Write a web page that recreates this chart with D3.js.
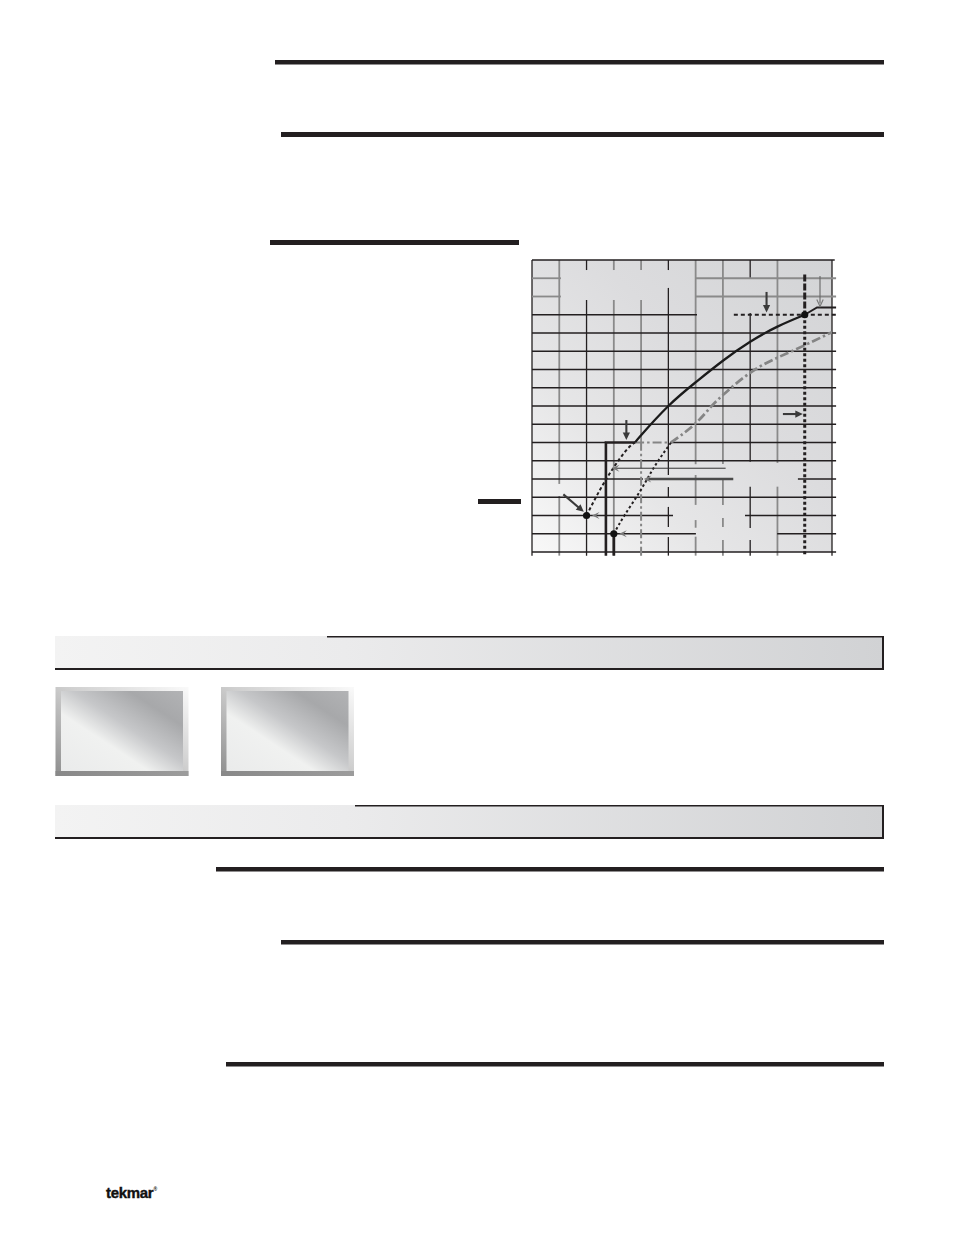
<!DOCTYPE html>
<html><head><meta charset="utf-8">
<script src="https://cdn.jsdelivr.net/npm/d3@7"></script>
<style>html,body{margin:0;padding:0;background:#fff;} svg{display:block;}</style>
</head><body>
<svg id="page" width="954" height="1235"></svg>
<script>
// ---------- DATA (grid units) ----------
const xTicks = d3.range(0, 12);          // vertical grid lines
const yTicks = d3.range(0, 17);          // horizontal grid lines
const majorCols = [0, 2, 5, 8, 11];      // dark columns
const grayRows = [14, 15];               // light rows

// heating curve (solid) and its extension below the boost line (dashed)
const heatX = [3.78, 4, 5, 6, 7, 8, 9, 10];
const heatY = [6, 6.4, 8.0, 9.3, 10.48, 11.52, 12.35, 13];
const heatLowX = [2, 2.49, 2.98, 3.47, 3.78];
const heatLowY = [2, 3.4, 4.6, 5.6, 6];
const limitX = [10, 10.45, 11.15];
const limitY = [13, 13.4, 13.4];
// shifted curve (dash-dot) and its extension (dotted)
const shiftX = [5.1, 5.45, 6, 6.5, 7, 8, 9, 10, 11];
const shiftY = [6, 6.38, 7.05, 7.85, 8.6, 9.82, 10.65, 11.33, 12.05];
const shiftLowX = [3, 3.41, 3.99, 4.5, 5.1];
const shiftLowY = [1, 2.05, 3.4, 4.7, 6];
// marked points
const dotX = [2, 3, 10];
const dotY = [2, 1, 13];

// ---------- SETUP ----------
const svg = d3.select('#page');
svg.append('rect').attr('width', 954).attr('height', 1235).attr('fill', '#fff');
const defs = svg.append('defs');
const x = d3.scaleLinear().domain([0, 11]).range([532, 832]);
const y = d3.scaleLinear().domain([0, 16]).range([552, 260]);
const BLK = '#231f20', GRY = '#8a8a8a';

function lg(id, attrs, stops) {
  const g = defs.append('linearGradient').attr('id', id);
  Object.entries(attrs).forEach(([k, v]) => g.attr(k, v));
  stops.forEach(([o, c]) => g.append('stop').attr('offset', o).attr('stop-color', c));
}
lg('chartBg', {gradientUnits: 'userSpaceOnUse', x1: x(0), y1: y(0), x2: x(11), y2: y(16)},
  [[0, '#f8f8f8'], [0.3, '#e6e6e7'], [0.6, '#dcdcde'], [1, '#d3d4d6']]);
lg('hdr', {x1: 0, y1: 0, x2: 1, y2: 0}, [[0, '#f3f3f3'], [0.35, '#ebebec'], [1, '#d1d2d4']]);
lg('btnFrame', {x1: 1, y1: 0, x2: 0, y2: 1}, [[0, '#fafafa'], [0.45, '#d0d0d0'], [1, '#8e8e8e']]);
lg('btnFace', {x1: 0, y1: 1, x2: 1, y2: 0},
  [[0, '#eaebeb'], [0.36, '#f0f1f0'], [0.55, '#c6c7c9'], [0.78, '#a7a8aa'], [1, '#b2b3b5']]);
lg('btnBottom', {x1: 0, y1: 0, x2: 1, y2: 0}, [[0, '#888'], [1, '#9c9c9c']]);

// ---------- PAGE RULES ----------
const rules = [[275, 60, 884, 4.5], [281, 132, 884, 5], [270, 240, 519, 5], [478, 499, 521, 5],
  [216, 867, 884, 4.5], [281, 940, 884, 4.5], [226, 1062, 884, 4.5]];
svg.selectAll('rect.rule').data(rules).enter().append('rect').attr('class', 'rule')
  .attr('x', d => d[0]).attr('y', d => d[1]).attr('width', d => d[2] - d[0]).attr('height', d => d[3])
  .attr('fill', BLK);

// ---------- SECTION HEADERS ----------
[[636, 327], [805, 355]].forEach(([top, bx]) => {
  svg.append('rect').attr('x', 55).attr('y', top).attr('width', 829).attr('height', 33).attr('fill', 'url(#hdr)');
  svg.append('line').attr('x1', bx).attr('x2', 884).attr('y1', top + 0.75).attr('y2', top + 0.75)
    .attr('stroke', BLK).attr('stroke-width', 1.5);
  svg.append('line').attr('x1', 883).attr('x2', 883).attr('y1', top).attr('y2', top + 33)
    .attr('stroke', BLK).attr('stroke-width', 2);
  svg.append('line').attr('x1', 55).attr('x2', 884).attr('y1', top + 33).attr('y2', top + 33)
    .attr('stroke', BLK).attr('stroke-width', 2);
});

// ---------- BUTTONS ----------
[55.5, 221].forEach(bx => {
  svg.append('rect').attr('x', bx).attr('y', 687).attr('width', 133).attr('height', 89).attr('fill', 'url(#btnFrame)');
  svg.append('rect').attr('x', bx).attr('y', 771).attr('width', 133).attr('height', 5).attr('fill', 'url(#btnBottom)');
  svg.append('rect').attr('x', bx + 5.5).attr('y', 691).attr('width', 122).attr('height', 80).attr('fill', 'url(#btnFace)');
});

// ---------- LOGO ----------
const logo = svg.append('text').attr('x', 106).attr('y', 1198)
  .attr('font-family', 'Liberation Sans, Arial, sans-serif').attr('font-weight', 'bold')
  .attr('font-size', 15).attr('letter-spacing', -0.3).attr('fill', '#111')
  .attr('stroke', '#111').attr('stroke-width', 0.4);
logo.append('tspan').text('tekmar');
logo.append('tspan').attr('font-size', 5).attr('stroke-width', 0).attr('dy', -7).text('®');

// ---------- CHART ----------
const chart = svg.append('g');
chart.append('rect').attr('x', x(0)).attr('y', y(16)).attr('width', x(11) - x(0)).attr('height', y(0) - y(16))
  .attr('fill', 'url(#chartBg)');

function segments(a, b, gaps) {
  const out = []; let s = a;
  (gaps || []).slice().sort((p, q) => p[0] - q[0]).forEach(([g0, g1]) => {
    if (g0 > s) out.push([s, Math.min(g0, b)]);
    s = Math.max(s, g1);
  });
  if (s < b) out.push([s, b]);
  return out;
}
// gaps where text labels knocked the grid out
const colGaps = {1: [[3.07, 3.73]], 2: [[13.81, 15.45]], 3: [[13.81, 15.45]], 4: [[13.81, 15.45]],
  5: [[14.47, 15.45], [3.56, 4.22], [2.47, 2.96], [0.82, 1.37]],
  6: [[4.22, 4.81], [1.75, 2.58], [0.84, 1.33]], 7: [[3.95, 4.82], [1.86, 2.58], [0.66, 1.37]],
  8: [[13.1, 14.96], [3.58, 4.95], [0.66, 1.32]], 9: [[3.58, 4.88]]};
const rowGaps = {1: [[6.01, 8.99]], 2: [[5.17, 7.81]], 4: [[4.07, 9.75]], 6: [[2.71, 5.1]],
  13: [[6.05, 11.3]], 14: [[1.06, 5.98]], 15: [[1.06, 5.98]]};

const grid = chart.append('g');
xTicks.forEach(c => {
  if (c === 10) return;
  const lo = c === 4 ? 6 : -0.2;
  const col = majorCols.includes(c) ? BLK : GRY;
  segments(lo, 16, colGaps[c]).forEach(([a, b]) => {
    grid.append('line').attr('x1', x(c)).attr('x2', x(c)).attr('y1', y(a)).attr('y2', y(b))
      .attr('stroke', col).attr('stroke-width', col === BLK ? 1.3 : 1.8);
  });
});
yTicks.forEach(r => {
  const col = grayRows.includes(r) ? GRY : BLK;
  const hi = r === 16 ? 11.1 : 11.15;
  segments(0, hi, rowGaps[r]).forEach(([a, b]) => {
    grid.append('line').attr('x1', x(a)).attr('x2', x(b)).attr('y1', y(r)).attr('y2', y(r))
      .attr('stroke', col).attr('stroke-width', col === BLK ? 1.3 : 1.8);
  });
});

const line = d3.line().x(d => x(d[0])).y(d => y(d[1]));
const curve = d3.line().x(d => x(d[0])).y(d => y(d[1])).curve(d3.curveNatural);
const zip = (a, b) => a.map((v, i) => [v, b[i]]);
function path(g, gen, pts, stroke, w, dash) {
  return g.append('path').attr('d', gen(pts)).attr('fill', 'none').attr('stroke', stroke)
    .attr('stroke-width', w).attr('stroke-dasharray', dash || null);
}

// gray dash-dot verticals/horizontals
const DD = '9,3,2.5,3';
path(chart, line, [[4, -0.2], [4, 6]], '#858585', 2, DD);
path(chart, line, [[3.78, 6], [5.1, 6]], '#858585', 2, DD);
path(chart, curve, zip(shiftX, shiftY), '#858585', 2.7, DD);
path(chart, curve, zip(shiftLowX, shiftLowY), BLK, 2, '2.5,2.5');
path(chart, curve, zip(heatLowX, heatLowY), BLK, 2, '3.2,2.5');
path(chart, curve, zip(heatX, heatY), '#1b1b1b', 2.3);
path(chart, line, zip(limitX, limitY), BLK, 2);
// boost / minimum lines
path(chart, line, [[2.71, -0.2], [2.71, 6], [3.78, 6]], BLK, 2.6);
path(chart, line, [[3, -0.2], [3, 1]], BLK, 2.8);
// design outdoor line & design supply line
path(chart, line, [[10, 15.2], [10, 13]], BLK, 3, '7,2');
path(chart, line, [[10, 13], [10, -0.25]], BLK, 3, '3,2.5');
path(chart, line, [[7.4, 13], [11.15, 13]], BLK, 2, '4,3');

// arrows
function head(g, tx, ty, ang, kind) {
  const L = 7.5, W = 3.6;
  const c = Math.cos(ang), s = Math.sin(ang);
  const P = (u, v) => [tx - u * c - v * s, ty - u * s + v * c];
  let pts;
  if (kind === 'chev') pts = [P(0, 0), P(L, -W), P(L * 0.6, 0), P(L, W)];
  else pts = [P(0, 0), P(L, -W), P(L, W)];
  g.append('path').attr('d', 'M' + pts.map(p => p.join(',')).join('L') + 'Z')
    .attr('fill', kind === 'chev' ? '#7a7a7a' : '#3a3a3a');
}
function arrow(x1, y1, x2, y2, kind) {
  const X1 = x(x1), Y1 = y(y1), X2 = x(x2), Y2 = y(y2);
  const ang = Math.atan2(Y2 - Y1, X2 - X1);
  const w = {thick: 2.1, thin: 1.1, bar: 2.6, fine: 1}[kind];
  const col = {thick: '#3a3a3a', thin: '#666', bar: '#4a4a4a', fine: '#333'}[kind];
  const back = kind === 'thick' ? 6 : 3;
  chart.append('line').attr('x1', X1).attr('y1', Y1)
    .attr('x2', X2 - back * Math.cos(ang)).attr('y2', Y2 - back * Math.sin(ang))
    .attr('stroke', col).attr('stroke-width', w);
  if (kind === 'thin') {
    const c = Math.cos(ang), s = Math.sin(ang);
    const p1 = [X2 - 7 * c + 3.2 * s, Y2 - 7 * s - 3.2 * c], p2 = [X2 - 7 * c - 3.2 * s, Y2 - 7 * s + 3.2 * c];
    chart.append('path').attr('d', `M${p1}L${X2},${Y2}L${p2}`).attr('fill', 'none')
      .attr('stroke', '#777').attr('stroke-width', 1.1);
  } else head(chart, X2, Y2, ang, kind === 'thick' ? 'solid' : 'chev');
}
arrow(8.6, 14.25, 8.6, 13.13, 'thick');
arrow(10.56, 15.12, 10.56, 13.45, 'thin');
arrow(3.46, 7.23, 3.46, 6.14, 'thick');
arrow(9.2, 7.56, 9.93, 7.56, 'thick');
arrow(1.15, 3.16, 1.9, 2.2, 'thick');
arrow(7.1, 4.59, 2.93, 4.59, 'fine');
arrow(7.38, 4.0, 4.1, 4.0, 'bar');
head(chart, x(2.2), y(2), Math.PI, 'chev');
head(chart, x(3.2), y(1), Math.PI, 'chev');

chart.selectAll('circle.pt').data(zip(dotX, dotY)).enter().append('circle').attr('class', 'pt')
  .attr('cx', d => x(d[0])).attr('cy', d => y(d[1])).attr('r', 3.6).attr('fill', '#111');
</script>
</body></html>
